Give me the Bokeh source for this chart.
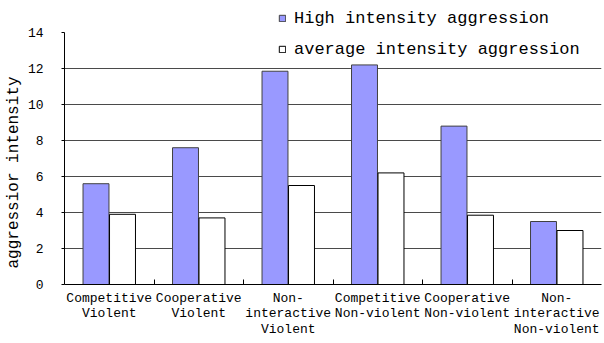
from bokeh.plotting import figure
from bokeh.models import ColumnDataSource, FixedTicker, Range1d, Legend, LegendItem, Title
from bokeh.transform import dodge
from bokeh.embed import file_html
from bokeh.resources import INLINE
import numpy as np

categories = ["Competitive\nViolent", "Cooperative\nViolent", "Non-\ninteractive\nViolent",
              "Competitive\nNon-violent", "Cooperative\nNon-violent", "Non-\ninteractive\nNon-violent"]
high_values = [5.6, 7.6, 11.85, 12.2, 8.8, 3.5]
avg_values = [3.9, 3.7, 5.5, 6.2, 3.85, 3.0]
series_names = ["High intensity aggression", "average intensity aggression"]
y_ticks = [0, 2, 4, 6, 8, 10, 12, 14]
y_label = "aggressior intensity"

FONT = "Liberation Mono"

pos = np.arange(len(categories)) + 0.5
src = ColumnDataSource(dict(x=pos, high=high_values, avg=avg_values))

p = figure(width=604, height=343, output_backend="svg", toolbar_location=None,
           x_range=Range1d(0, len(categories)), y_range=Range1d(0, 15.78),
           min_border_left=64, min_border_right=3, min_border_top=0, min_border_bottom=59)
p.outline_line_color = None
p.background_fill_color = "white"
p.border_fill_color = "white"

r1 = p.vbar(x=dodge("x", -0.148, range=p.x_range), top="high", width=0.29, bottom=0, source=src,
            fill_color="#9999FF", line_color="#404040", line_width=1)
r2 = p.vbar(x=dodge("x", 0.148, range=p.x_range), top="avg", width=0.29, bottom=0, source=src,
            fill_color="white", line_color="#000000", line_width=1)

# x axis
xa = p.xaxis[0]
xa.ticker = FixedTicker(ticks=list(pos), minor_ticks=list(range(1, len(categories))))
xa.major_label_overrides = {float(x): c for x, c in zip(pos, categories)}
xa.major_tick_in = 0
xa.major_tick_out = 0
xa.minor_tick_in = 5
xa.minor_tick_out = 0
xa.minor_tick_line_color = "#000000"
xa.axis_line_color = "#000000"
xa.major_label_standoff = 6
xa.major_label_text_font = FONT
xa.major_label_text_font_size = "13px"
xa.major_label_text_color = "#000000"
xa.major_label_text_line_height = 1.05

# y axis
ya = p.yaxis[0]
ya.ticker = FixedTicker(ticks=y_ticks)
ya.bounds = (0, 14)
ya.minor_tick_line_color = None
ya.major_tick_in = 0
ya.major_tick_out = 3
ya.axis_line_color = "#000000"
ya.major_label_standoff = 18
ya.major_label_text_font = FONT
ya.major_label_text_font_size = "13px"
ya.major_label_text_color = "#000000"

# y axis title, placed as a side title so its position along the axis can be set
ttl = Title(text=y_label, align="left", offset=16, standoff=3,
            text_font=FONT, text_font_size="16px", text_font_style="normal",
            text_color="#000000")
p.add_layout(ttl, "left")

p.xgrid.grid_line_color = None
p.ygrid.ticker = FixedTicker(ticks=[t for t in y_ticks if 0 < t < 14])
p.ygrid.grid_line_color = "#4a4a4a"
p.ygrid.grid_line_width = 1

legend = Legend(items=[LegendItem(label=series_names[0], renderers=[r1]),
                       LegendItem(label=series_names[1], renderers=[r2])],
                location=(214, 225), orientation="vertical",
                background_fill_color="white", background_fill_alpha=1.0,
                border_line_color=None, padding=8, margin=0, spacing=11,
                glyph_width=8, glyph_height=8, label_standoff=8, label_height=20,
                label_text_font=FONT, label_text_font_size="17px", label_text_color="#000000")
p.add_layout(legend)

open("out.html", "w").write(file_html(p, INLINE))
